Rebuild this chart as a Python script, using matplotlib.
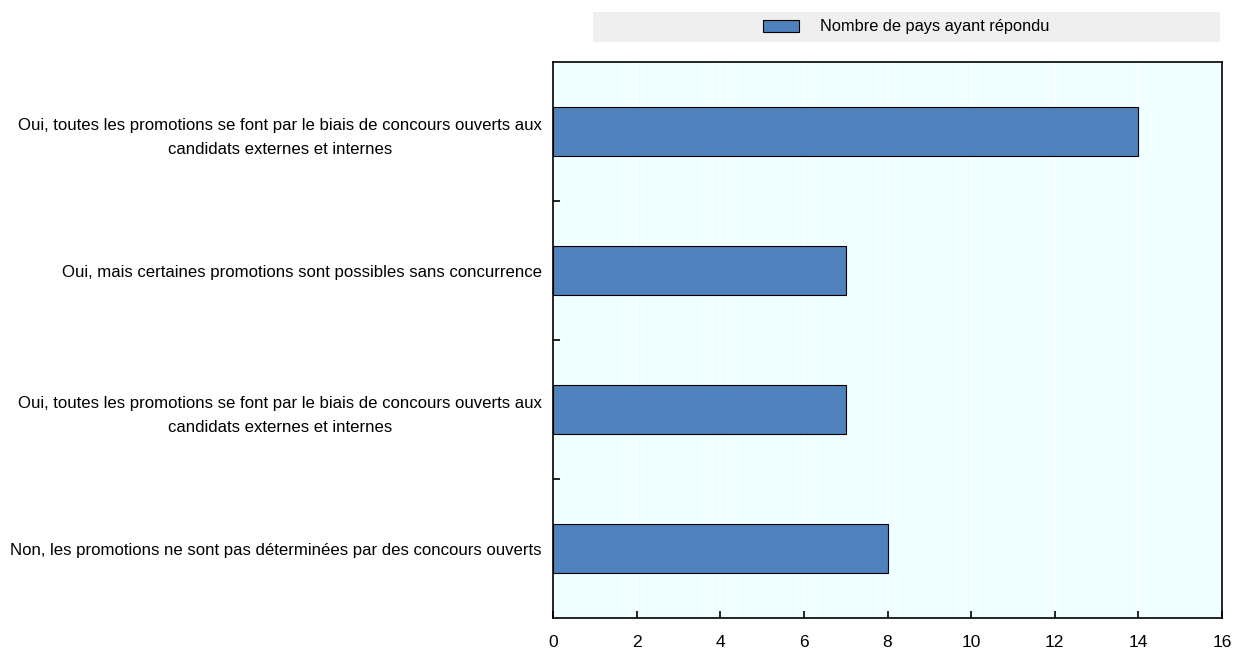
import matplotlib
matplotlib.use("Agg")
import matplotlib.pyplot as plt
from matplotlib.patches import Rectangle
from matplotlib.ticker import FixedLocator

plt.rcParams['font.family'] = ['Liberation Sans Narrow', 'Liberation Sans', 'DejaVu Sans']

categories = [
    "Oui, toutes les promotions se font par le biais de concours ouverts aux\ncandidats externes et internes",
    "Oui, mais certaines promotions sont possibles sans concurrence",
    "Oui, toutes les promotions se font par le biais de concours ouverts aux\ncandidats externes et internes",
    "Non, les promotions ne sont pas déterminées par des concours ouverts",
]
values = [14, 7, 7, 8]
series_name = "Nombre de pays ayant répondu"
xticks = [0, 2, 4, 6, 8, 10, 12, 14, 16]

fig = plt.figure(figsize=(12.46, 6.53), dpi=100)
ax = fig.add_axes([553/1246, 1-618/653, (1222-553)/1246, (618-62)/653])
ax.set_facecolor('#f0ffff')

pos = list(range(len(categories)))
ax.barh(pos, values, height=0.35, color='#4f81bd', edgecolor='black', linewidth=0.8, zorder=3,
        label=series_name)
ax.set_ylim(len(categories)-0.5, -0.5)
ax.set_xlim(0, 16)
ax.set_xticks(xticks)
ax.set_xticklabels([str(t) for t in xticks], fontsize=12.5)
ax.xaxis.grid(True, color='white', linewidth=1.2, zorder=1)
ax.set_axisbelow(True)
ax.tick_params(axis='x', direction='in', length=5, width=1.2, pad=12)

ax.set_yticks(pos)
ax.set_yticklabels(categories, fontsize=12.1, ha='right', multialignment='center',
                   linespacing=1.75)
ax.tick_params(axis='y', which='major', length=0, pad=8)
ax.yaxis.set_minor_locator(FixedLocator([0.5, 1.5, 2.5]))
ax.tick_params(axis='y', which='minor', direction='in', length=5, width=1.2)

for s in ax.spines.values():
    s.set_linewidth(1.2)
    s.set_color('black')

# legend band
fig.patches.append(Rectangle((593/1246, 1-42/653), (1220-593)/1246, 30/653,
                             transform=fig.transFigure, facecolor='#efefef', edgecolor='none'))
fig.legend(loc='center', bbox_to_anchor=((593+1220)/2/1246, 1-27/653), frameon=False,
           fontsize=11.8, handlelength=2.2, handleheight=0.8, handletextpad=1.3)

fig.savefig('out.png', dpi=100)
